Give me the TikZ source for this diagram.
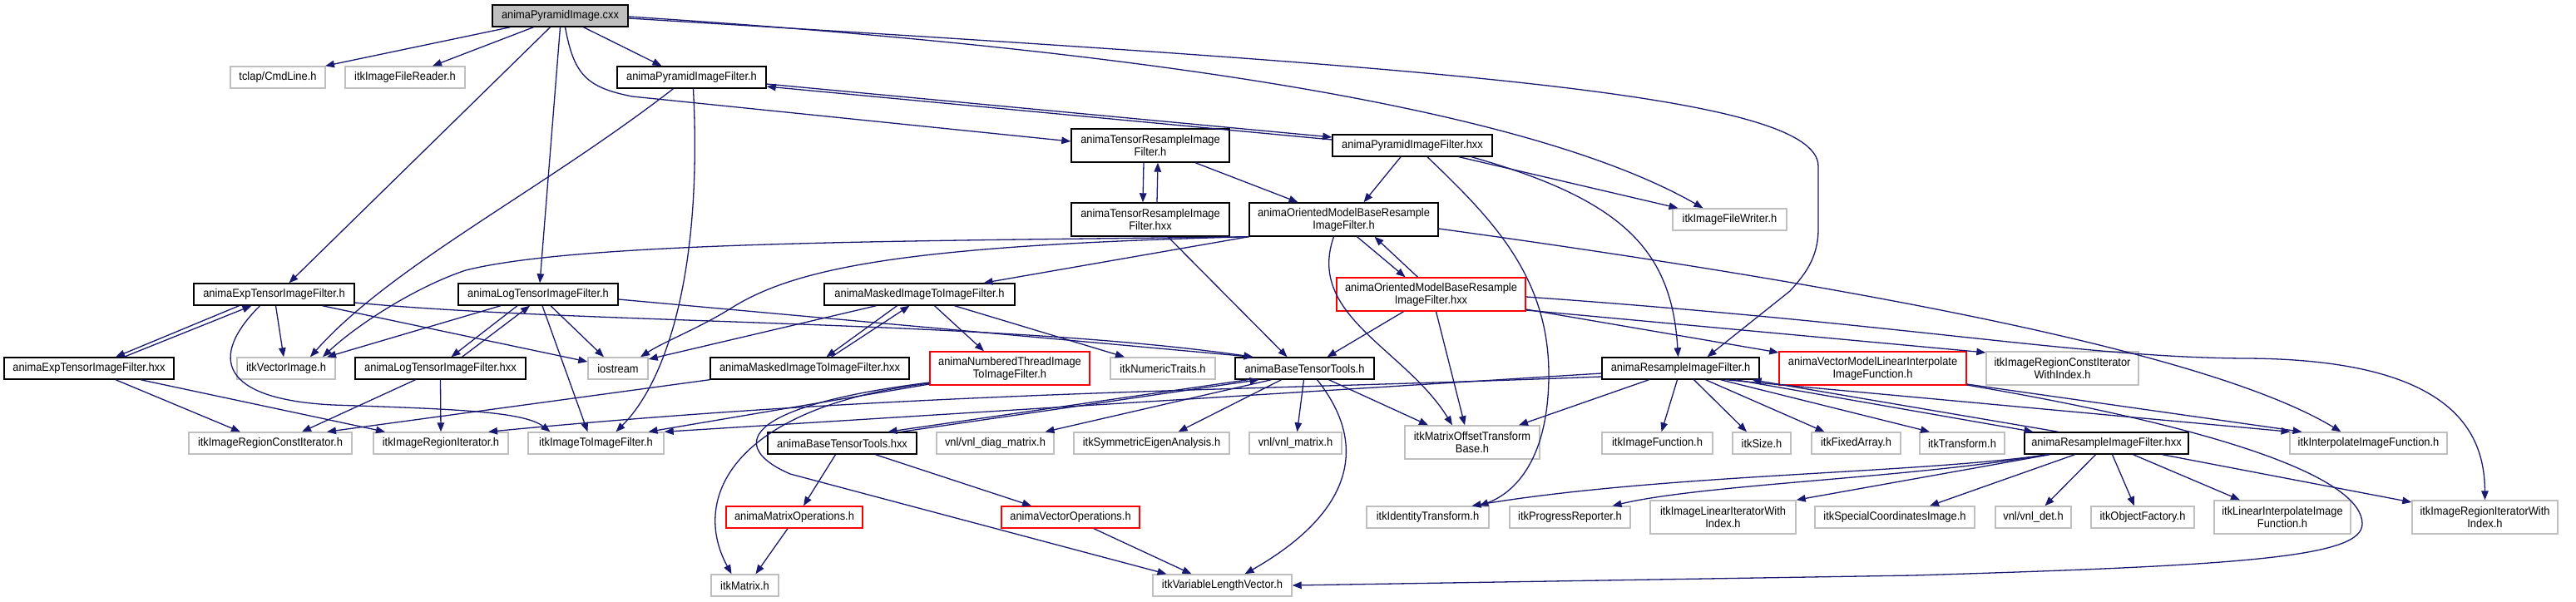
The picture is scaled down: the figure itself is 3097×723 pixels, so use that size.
\documentclass[tikz,border=0pt]{standalone}
\usepackage{fontspec}
\setmainfont[FakeStretch=0.92]{Liberation Sans}
\usetikzlibrary{arrows.meta}
\definecolor{edgec}{HTML}{191970}
\definecolor{greyb}{HTML}{BFBFBF}
\newcommand\nfont{\fontsize{14}{15}\selectfont}
\newcommand\mkbox[7]{\node[#1,minimum width=#5pt,minimum height=#6pt] (#2) at (#3,#4) {#7};}
\tikzset{
  box/.style={draw, line width=1.4pt, inner sep=0pt, font=\nfont, text=black, align=center},
  ext/.style={box, draw=greyb},
  doc/.style={box, draw=black},
  trunc/.style={box, draw=red},
  root/.style={box, draw=black, fill=greyb},
  e/.style={draw=edgec, line width=1.3pt, -{Triangle[length=11pt,width=8.5pt]}, fill=none},
}
\begin{document}
\begin{tikzpicture}[x=1pt,y=-1pt]
\useasboundingbox (0,0) rectangle (3097,723);
% nodes
\mkbox{root}{main}{673.5}{19}{163}{26}{animaPyramidImage.cxx}
\mkbox{ext}{cmdline}{334}{93}{114}{26}{tclap/CmdLine.h}
\mkbox{ext}{reader}{487}{93}{144}{26}{itkImageFileReader.h}
\mkbox{doc}{pyrh}{831.5}{93}{179}{26}{animaPyramidImageFilter.h}
\mkbox{doc}{expth}{329.5}{354}{193}{26}{animaExpTensorImageFilter.h}
\mkbox{doc}{logth}{647}{354}{192}{26}{animaLogTensorImageFilter.h}
\mkbox{doc}{tensh}{1383}{175}{190}{40}{animaTensorResampleImage\\Filter.h}
\mkbox{doc}{tenshxx}{1383}{264}{190}{40}{animaTensorResampleImage\\Filter.hxx}
\mkbox{doc}{maskh}{1105.5}{354}{229}{26}{animaMaskedImageToImageFilter.h}
\mkbox{doc}{pyrhxx}{1698}{175}{192}{26}{animaPyramidImageFilter.hxx}
\mkbox{doc}{orih}{1615.5}{264}{227}{40}{animaOrientedModelBaseResample\\ImageFilter.h}
\mkbox{ext}{writer}{2079.5}{264}{137}{26}{itkImageFileWriter.h}
\mkbox{trunc}{orihxx}{1720.5}{354}{227}{40}{animaOrientedModelBaseResample\\ImageFilter.hxx}
\mkbox{doc}{exphxx}{107}{443}{204}{26}{animaExpTensorImageFilter.hxx}
\mkbox{ext}{vecimg}{344}{443}{118}{26}{itkVectorImage.h}
\mkbox{doc}{loghxx}{529.5}{443}{205}{26}{animaLogTensorImageFilter.hxx}
\mkbox{ext}{iostream}{743}{443}{72}{26}{iostream}
\mkbox{ext}{rci}{325}{533}{196}{26}{itkImageRegionConstIterator.h}
\mkbox{ext}{ri}{530}{533}{162}{26}{itkImageRegionIterator.h}
\mkbox{ext}{i2i}{716.5}{533}{163}{26}{itkImageToImageFilter.h}
\mkbox{doc}{maskhxx}{973.5}{443}{239}{26}{animaMaskedImageToImageFilter.hxx}
\mkbox{trunc}{nth}{1214}{443}{192}{40}{animaNumberedThreadImage\\ToImageFilter.h}
\mkbox{ext}{numtraits}{1398}{443}{126}{26}{itkNumericTraits.h}
\mkbox{doc}{btth}{1568.5}{443}{167}{26}{animaBaseTensorTools.h}
\mkbox{doc}{btthxx}{1012.5}{533}{179}{26}{animaBaseTensorTools.hxx}
\mkbox{ext}{diag}{1196.5}{533}{141}{26}{vnl/vnl\_diag\_matrix.h}
\mkbox{ext}{eig}{1384.5}{533}{187}{26}{itkSymmetricEigenAnalysis.h}
\mkbox{ext}{vnlmat}{1557.5}{533}{111}{26}{vnl/vnl\_matrix.h}
\mkbox{trunc}{matop}{955}{622}{164}{26}{animaMatrixOperations.h}
\mkbox{trunc}{vecop}{1287}{622}{166}{26}{animaVectorOperations.h}
\mkbox{ext}{itkmat}{895.5}{704}{81}{26}{itkMatrix.h}
\mkbox{ext}{vlv}{1469.5}{704}{167}{26}{itkVariableLengthVector.h}
\mkbox{ext}{mot}{1770}{532}{162}{40}{itkMatrixOffsetTransform\\Base.h}
\mkbox{doc}{resh}{2020.5}{443}{189}{26}{animaResampleImageFilter.h}
\mkbox{trunc}{vmli}{2251.5}{443}{225}{40}{animaVectorModelLinearInterpolate\\ImageFunction.h}
\mkbox{ext}{imgfun}{1992.5}{533}{133}{26}{itkImageFunction.h}
\mkbox{ext}{size}{2118}{533}{70}{26}{itkSize.h}
\mkbox{ext}{fixed}{2231.5}{533}{107}{26}{itkFixedArray.h}
\mkbox{ext}{identity}{1716.5}{622}{147}{26}{itkIdentityTransform.h}
\mkbox{ext}{progress}{1887.5}{622}{145}{26}{itkProgressReporter.h}
\mkbox{ext}{linit}{2071.5}{622}{175}{40}{itkImageLinearIteratorWith\\Index.h}
\mkbox{ext}{special}{2278}{622}{192}{26}{itkSpecialCoordinatesImage.h}
\mkbox{ext}{rciwi}{2479.5}{443}{183}{40}{itkImageRegionConstIterator\\WithIndex.h}
\mkbox{ext}{transform}{2359}{533}{102}{26}{itkTransform.h}
\mkbox{doc}{reshxx}{2532.5}{533}{197}{26}{animaResampleImageFilter.hxx}
\mkbox{ext}{interp}{2847.5}{533}{189}{26}{itkInterpolateImageFunction.h}
\mkbox{ext}{det}{2444.5}{622}{91}{26}{vnl/vnl\_det.h}
\mkbox{ext}{objfac}{2576}{622}{124}{26}{itkObjectFactory.h}
\mkbox{ext}{linterp}{2744}{622}{164}{40}{itkLinearInterpolateImage\\Function.h}
\mkbox{ext}{riwi}{2987.5}{622}{175}{40}{itkImageRegionIteratorWith\\Index.h}
% edges from main
\draw[e] ([xshift=-60]main.south) -- ([xshift=57]cmdline.north);
\draw[e] ([xshift=-32]main.south) -- ([xshift=33]reader.north);
\draw[e] ([xshift=-12]main.south) -- ([xshift=18]expth.north);
\draw[e] ([xshift=0]main.south) -- ([xshift=2]logth.north);
\draw[e] ([xshift=28]main.south) -- ([xshift=-36]pyrh.north);
\draw[e] ([xshift=6]main.south) .. controls (690,90) and (705,105) .. (760,116) -- ([yshift=5]tensh.west);
\draw[e] ([yshift=-1]main.east) .. controls (1300,55) and (1820,120) .. ([xshift=-32]writer.north);
\draw[e] ([yshift=-3]main.east) .. controls (1700,80) and (2186,110) .. (2186,200) -- (2186,275) .. controls (2186,310) and (2170,330) .. (2152,350) -- ([xshift=32]resh.north);
% pyramid filter
\draw[e] ([yshift=-8]pyrh.east) -- ([yshift=10]pyrhxx.west);
\draw[e] ([yshift=7]pyrhxx.west) -- ([yshift=-11]pyrh.east);
\draw[e] ([xshift=-22]pyrh.south) .. controls (650,230) and (470,320) .. ([xshift=29]vecimg.north);
\draw[e] ([xshift=2]pyrh.south) .. controls (845,330) and (800,460) .. ([xshift=24]i2i.north);
% tensor resample
\draw[e] ([xshift=-8]tensh.south) -- ([xshift=-9]tenshxx.north);
\draw[e] ([xshift=8]tenshxx.north) -- ([xshift=9]tensh.south);
\draw[e] ([xshift=54]tensh.south) -- ([xshift=-55]orih.north);
\draw[e] ([xshift=21]tenshxx.south) -- ([xshift=-21]btth.north);
% pyramid hxx
\draw[e] ([xshift=-14]pyrhxx.south) -- ([xshift=24]orih.north);
\draw[e] ([xshift=18]pyrhxx.south) .. controls (1790,260) and (1862,330) .. (1862,450) .. controls (1862,560) and (1815,595) .. ([xshift=62]identity.north);
\draw[e] ([xshift=56]pyrhxx.south) -- ([xshift=-62]writer.north);
\draw[e] ([xshift=71]pyrhxx.south) .. controls (1950,240) and (2010,300) .. ([xshift=-3]resh.north);
% oriented model .h
\draw[e] ([xshift=16]orih.south) -- ([xshift=-31]orihxx.north);
\draw[e] ([xshift=-16]orihxx.north) -- ([xshift=37]orih.south);
\draw[e] ([xshift=-12]orih.south) .. controls (1570,380) and (1690,420) .. ([xshift=-24]mot.north);
\draw[e] ([yshift=-11]orih.east) .. controls (2200,340) and (2650,420) .. ([xshift=-33]interp.north);
\draw[e] (orih.south west) .. controls (1100,290) and (700,290) .. (560,325) .. controls (500,345) and (430,390) .. ([xshift=44]vecimg.north);
\draw[e] (orih.south west) .. controls (1100,295) and (960,320) .. (880,370) .. controls (840,395) and (800,410) .. ([xshift=27]iostream.north);
\draw[e] (orih.south west) -- ([xshift=77]maskh.north);
% oriented model .hxx
\draw[e] ([xshift=-33]orihxx.south) -- ([xshift=27]btth.north);
\draw[e] ([xshift=6]orihxx.south) -- ([xshift=-9]mot.north);
\draw[e] ([yshift=-18]orihxx.east) -- ([yshift=19]vmli.west);
\draw[e] ([yshift=-19]orihxx.east) -- ([yshift=19]rciwi.west);
\draw[e] ([yshift=-3]orihxx.east) .. controls (2300,390) and (2500,430) .. (2700,431) .. controls (2950,432) and (2987,520) .. (riwi.north);
% vector model
\draw[e] ([yshift=-19]vmli.east) -- ([xshift=-80]interp.north);
\draw[e] ([yshift=-20]vmli.east) .. controls (2700,520) and (2840,580) .. (2840,630) .. controls (2840,670) and (2700,680) .. (2300,692) -- (vlv.east);
% resample .h
\draw[e] ([xshift=-38]resh.south) -- ([xshift=56]mot.north);
\draw[e] ([xshift=-4]resh.south) -- ([xshift=5]imgfun.north);
\draw[e] ([xshift=16]resh.south) -- ([xshift=-18]size.north);
\draw[e] ([xshift=30]resh.south) -- ([xshift=-38]fixed.north);
\draw[e] ([xshift=48]resh.south) -- ([xshift=-39]transform.north);
\draw[e] ([xshift=54]resh.south) -- ([xshift=-94]interp.north);
\draw[e] ([xshift=66]resh.south) -- ([xshift=-88]reshxx.north);
\draw[e] ([xshift=-58]reshxx.north) -- ([xshift=86]resh.south);
\draw[e] ([yshift=-6]resh.west) -- (i2i.north east);
\draw[e] ([yshift=-10]resh.west) .. controls (1500,470) and (1100,470) .. ([xshift=57]ri.north);
% resample .hxx
\draw[e] ([xshift=-70]reshxx.south) .. controls (2300,570) and (2000,570) .. ([xshift=53]identity.north);
\draw[e] ([xshift=-72]reshxx.south) .. controls (2300,575) and (2050,582) .. ([xshift=51]progress.north);
\draw[e] ([xshift=-68]reshxx.south) -- (linit.north east);
\draw[e] ([xshift=-38]reshxx.south) -- ([xshift=42]special.north);
\draw[e] ([xshift=-13]reshxx.south) -- ([xshift=14]det.north);
\draw[e] ([xshift=7]reshxx.south) -- ([xshift=-10]objfac.north);
\draw[e] ([xshift=32]reshxx.south) -- ([xshift=-51]linterp.north);
\draw[e] ([xshift=67]reshxx.south) -- ([yshift=18]riwi.west);
% numbered thread
\draw[e] ([yshift=-19]nth.west) -- ([xshift=63]i2i.north);
\draw[e] ([yshift=-18]nth.west) .. controls (880,490) and (830,600) .. ([xshift=-16]itkmat.north);
\draw[e] ([yshift=-17]nth.west) .. controls (880,490) and (880,540) .. (950,570) -- ([xshift=-67]vlv.north);
% base tensor tools
\draw[e] ([xshift=-68]btth.south) -- ([xshift=55]btthxx.north);
\draw[e] ([xshift=71]btthxx.north) -- ([xshift=-55]btth.south);
\draw[e] ([xshift=-1]btth.south) -- ([xshift=2]vnlmat.north);
\draw[e] ([xshift=-40]btth.south) -- ([xshift=60]diag.north);
\draw[e] ([xshift=-28]btth.south) -- ([xshift=32]eig.north);
\draw[e] ([xshift=15]btth.south) .. controls (1650,540) and (1620,620) .. ([xshift=27]vlv.north);
\draw[e] ([xshift=29]btth.south) -- ([xshift=-53]mot.north);
% masked
\draw[e] ([xshift=-52]maskh.south) -- ([yshift=11]iostream.east);
\draw[e] ([xshift=-27]maskh.south) -- ([xshift=20]maskhxx.north);
\draw[e] ([xshift=26]maskhxx.north) -- ([xshift=-12]maskh.south);
\draw[e] ([xshift=18]maskh.south) -- ([xshift=-31]nth.north);
\draw[e] ([xshift=42]maskh.south) -- ([xshift=-46]numtraits.north);
\draw[e] (maskhxx.south west) -- ([xshift=68]rci.north);
% exp
\draw[e] ([xshift=-42]expth.south) -- ([xshift=32]exphxx.north);
\draw[e] ([xshift=42]exphxx.north) -- ([xshift=-27]expth.south);
\draw[e] ([xshift=2]expth.south) -- ([xshift=-3]vecimg.north);
\draw[e] ([xshift=58]expth.south) -- ([yshift=8]iostream.west);
\draw[e] ([yshift=-10]expth.east) .. controls (700,390) and (1200,385) .. ([xshift=-62]btth.north);
\draw[e] ([xshift=-17]expth.south) .. controls (250,430) and (265,480) .. (400,487) .. controls (550,492) and (630,495) .. ([xshift=-55]i2i.north);
% log
\draw[e] ([xshift=-25]logth.south) -- ([xshift=13]loghxx.north);
\draw[e] ([xshift=26]loghxx.north) -- ([xshift=-10]logth.south);
\draw[e] ([xshift=-45]logth.south) -- ([xshift=49]vecimg.north);
\draw[e] ([xshift=15]logth.south) -- ([xshift=-17]iostream.north);
\draw[e] ([xshift=5]logth.south) -- ([xshift=-10]i2i.north);
\draw[e] ([yshift=-6]logth.east) -- ([xshift=-62]btth.north);
% hxx iterators
\draw[e] ([xshift=32]exphxx.south) -- ([xshift=-36]rci.north);
\draw[e] ([xshift=62]exphxx.south) -- ([xshift=-67]ri.north);
\draw[e] ([xshift=-30]loghxx.south) -- ([xshift=38]rci.north);
\draw[e] (loghxx.south) -- (ri.north);
% operations
\draw[e] ([xshift=-8]btthxx.south) -- ([xshift=11]matop.north);
\draw[e] ([xshift=40]btthxx.south) -- ([xshift=-47]vecop.north);
\draw[e] ([xshift=-8]matop.south) -- ([xshift=13]itkmat.north);
\draw[e] ([xshift=28]vecop.south) -- ([xshift=-37]vlv.north);
\end{tikzpicture}
\end{document}
